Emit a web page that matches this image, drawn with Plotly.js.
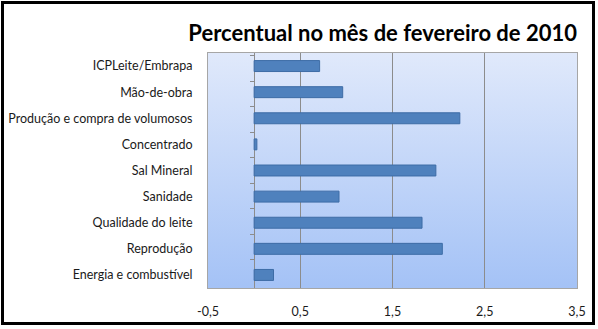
<!DOCTYPE html>
<html>
<head>
<meta charset="utf-8">
<script src="https://cdn.plot.ly/plotly-3.0.1.min.js"></script>
<style>
  html, body { margin: 0; padding: 0; background: #ffffff; }
  #wrap { position: relative; width: 598px; height: 329px; }
  #chart { position: absolute; left: 0; top: 0; width: 598px; height: 329px; }
  #frame { position: absolute; left: 1px; top: 1px; width: 588px; height: 318px;
           border: 3px solid #000; pointer-events: none; }
</style>
</head>
<body>
<div id="wrap">
  <div id="chart"></div>
  <div id="frame"></div>
</div>
<script>
// Categories, top to bottom as shown
const categories = [
  'ICPLeite/Embrapa',
  'Mão-de-obra',
  'Produção e compra de volumosos',
  'Concentrado',
  'Sal Mineral',
  'Sanidade',
  'Qualidade do leite',
  'Reprodução',
  'Energia e combustível'
];
// Percentual values
const values = [0.71, 0.96, 2.23, 0.03, 1.97, 0.92, 1.82, 2.04, 0.21];
// X-axis ticks
const xTickVals = [-0.5, 0.5, 1.5, 2.5, 3.5];
const xTickText = ['-0,5', '0,5', '1,5', '2,5', '3,5'];
const chartTitle = 'Percentual no mês de fevereiro de 2010';

const gradSvg = '<svg xmlns="http://www.w3.org/2000/svg" width="10" height="100" preserveAspectRatio="none">' +
  '<defs><linearGradient id="g" x1="0" y1="0" x2="0" y2="1">' +
  '<stop offset="0" stop-color="#e0e9fb"/><stop offset="1" stop-color="#a4c2f6"/>' +
  '</linearGradient></defs><rect width="10" height="100" fill="url(#g)"/></svg>';
const gradUri = 'data:image/svg+xml;base64,' + btoa(gradSvg);

const font = 'Lato, "Open Sans", sans-serif';

const traces = [
  {
    type: 'bar',
    orientation: 'h',
    x: values,
    y: categories,
    marker: { color: '#4f81bd', line: { color: '#3d6ca6', width: 1 } },
    hoverinfo: 'x+y'
  },
  {
    type: 'scatter',
    mode: 'markers',
    x: categories.map(() => 0),
    y: categories,
    yaxis: 'y2',
    marker: { opacity: 0 },
    hoverinfo: 'skip',
    showlegend: false
  }
];

const layout = {
  width: 598,
  height: 329,
  margin: { l: 208, r: 21, t: 53, b: 41 },
  paper_bgcolor: 'rgba(0,0,0,0)',
  plot_bgcolor: 'rgba(0,0,0,0)',
  showlegend: false,
  bargap: 0.58,
  font: { family: font, size: 12, color: '#1a1a1a' },
  title: {
    text: chartTitle,
    font: { family: font, size: 22, color: '#000000', weight: 'bold' },
    xref: 'paper', x: 1, xanchor: 'right',
    yref: 'container', y: 0.9, yanchor: 'middle'
  },
  xaxis: {
    range: [-0.5, 3.5],
    tickvals: xTickVals,
    ticktext: xTickText,
    showgrid: true,
    gridcolor: '#8c8c8c',
    gridwidth: 1,
    zeroline: true,
    zerolinecolor: '#8c8c8c',
    zerolinewidth: 1,
    showline: true,
    mirror: true,
    linecolor: '#a6a6a6',
    linewidth: 1,
    ticks: '',
    ticklabelstandoff: 12,
    tickfont: { family: font, size: 12.5, color: '#1a1a1a' },
    fixedrange: true
  },
  yaxis: {
    type: 'category',
    categoryorder: 'array',
    categoryarray: categories,
    autorange: 'reversed',
    showgrid: false,
    showline: true,
    mirror: true,
    linecolor: '#a6a6a6',
    ticks: '',
    ticklabelstandoff: 12,
    tickfont: { family: font, size: 12.5, color: '#1a1a1a' },
    fixedrange: true
  },
  yaxis2: {
    type: 'category',
    categoryorder: 'array',
    categoryarray: categories,
    autorange: 'reversed',
    overlaying: 'y',
    anchor: 'free',
    side: 'left',
    position: 0.125,
    showgrid: false,
    showline: false,
    showticklabels: false,
    ticks: 'outside',
    tickson: 'boundaries',
    ticklen: 4,
    tickcolor: '#8c8c8c',
    fixedrange: true
  },
  images: [{
    source: gradUri,
    xref: 'paper', yref: 'paper',
    x: 0, y: 1, sizex: 1, sizey: 1,
    xanchor: 'left', yanchor: 'top',
    sizing: 'stretch',
    layer: 'below'
  }]
};

Plotly.newPlot('chart', traces, layout, { displayModeBar: false, staticPlot: true });
</script>
</body>
</html>
